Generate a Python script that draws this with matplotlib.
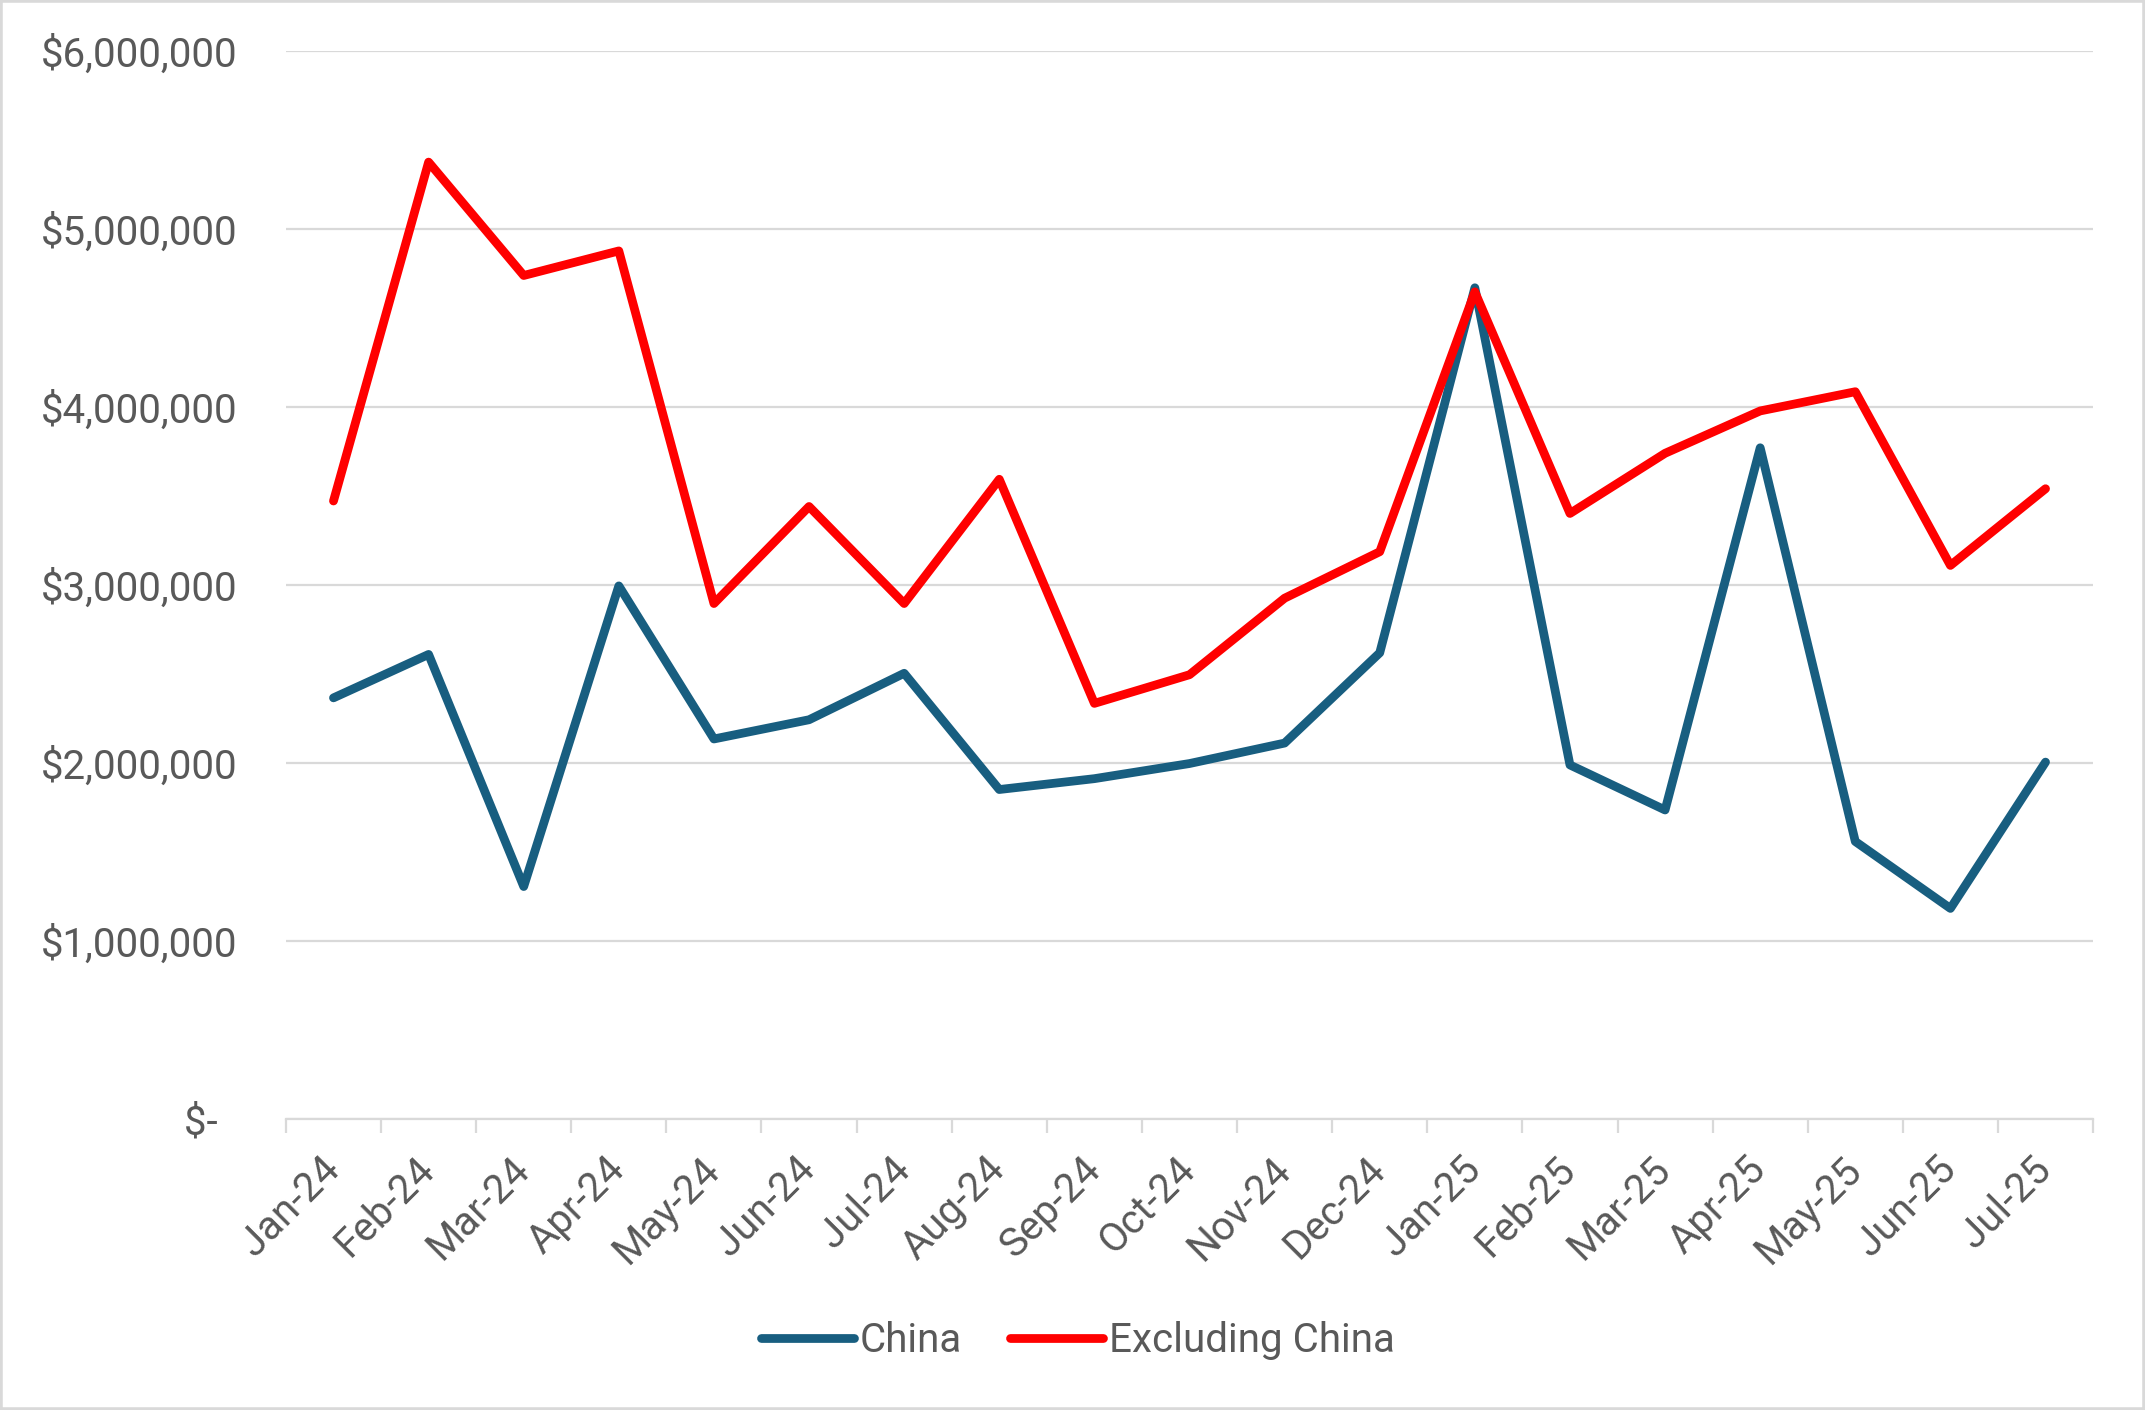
import matplotlib
matplotlib.use("Agg")
import matplotlib.pyplot as plt
import matplotlib.transforms as mtransforms
import numpy as np
from matplotlib.patches import Rectangle

months = ["Jan-24", "Feb-24", "Mar-24", "Apr-24", "May-24", "Jun-24", "Jul-24",
          "Aug-24", "Sep-24", "Oct-24", "Nov-24", "Dec-24", "Jan-25", "Feb-25",
          "Mar-25", "Apr-25", "May-25", "Jun-25", "Jul-25"]
china = [2366000, 2610000, 1306000, 2995000, 2135000, 2243000, 2504000,
         1851000, 1912000, 1997000, 2112000, 2619000, 4670000, 1989000,
         1736000, 3771000, 1559000, 1183000, 2005000]
excl_china = [3472000, 5376000, 4739000, 4877000, 2896000, 3441000, 2896000,
              3594000, 2335000, 2496000, 2926000, 3187000, 4647000, 3402000,
              3740000, 3978000, 4086000, 3110000, 3541000]
yticks = [0, 1000000, 2000000, 3000000, 4000000, 5000000, 6000000]
ylabels = ["$-  ", "$1,000,000", "$2,000,000", "$3,000,000", "$4,000,000",
           "$5,000,000", "$6,000,000"]

TXT = "#595959"
GRID = "#D9D9D9"
FS = 29
plt.rcParams["font.family"] = ["Roboto", "DejaVu Sans"]

fig = plt.figure(figsize=(21.45, 14.10), dpi=100)
ax = fig.add_axes([0.1333, 0.2064, 0.9758 - 0.1333, 0.9638 - 0.2064])

x = np.arange(len(months))
ax.plot(x, china, color="#185E80", lw=6.3, solid_joinstyle="round",
        solid_capstyle="round", label="China", zorder=3)
ax.plot(x, excl_china, color="#FF0000", lw=6.3, solid_joinstyle="round",
        solid_capstyle="round", label="Excluding China", zorder=3)

ax.set_xlim(-0.5, len(months) - 0.5)
ax.set_ylim(0, 6000000)
ax.set_yticks(yticks)
ax.set_yticklabels(ylabels)
ax.yaxis.grid(True, color=GRID, lw=1.6)
ax.set_axisbelow(True)
ax.tick_params(axis="y", length=0, pad=35, labelsize=FS, labelcolor=TXT)

# category boundaries get tick marks, category centres get the labels
ax.set_xticks(np.arange(-0.5, len(months)), minor=False)
ax.set_xticklabels([])
ax.set_xticks(x, minor=True)
ax.set_xticklabels(months, minor=True, rotation=45, ha="right",
                   rotation_mode="anchor")
ax.tick_params(axis="x", which="major", length=10, width=1.6, color=GRID)
ax.tick_params(axis="x", which="minor", length=0, pad=22, labelsize=FS,
               labelcolor=TXT)
shift = mtransforms.ScaledTranslation(-14 / 100, 0, fig.dpi_scale_trans)
for lab in ax.get_xticklabels(minor=True):
    lab.set_transform(lab.get_transform() + shift)

for s in ["top", "right", "left"]:
    ax.spines[s].set_visible(False)
ax.spines["bottom"].set_color(GRID)
ax.spines["bottom"].set_linewidth(1.6)

fig.legend(loc="center", bbox_to_anchor=(0.5026, 0.049), ncol=2, frameon=False,
           fontsize=FS, labelcolor=TXT, handlelength=2.3, handletextpad=0.15,
           columnspacing=1.2)

fig.patches.append(Rectangle((0, 0), 1, 1, transform=fig.transFigure,
                             fill=False, edgecolor=GRID, lw=4))

fig.savefig("out.png", dpi=100, facecolor="white")
